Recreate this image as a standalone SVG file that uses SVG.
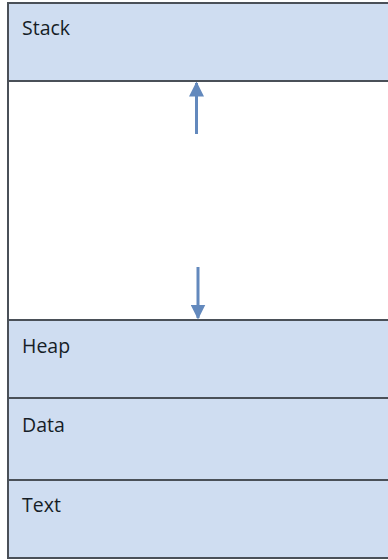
<svg xmlns="http://www.w3.org/2000/svg" width="388" height="560" viewBox="0 0 388 560">
<style>
.seg{fill:#cfddf1;stroke:#4a5058;stroke-width:2}
.free{fill:#ffffff;stroke:#4a5058;stroke-width:2}
.lbl{font-family:"Open Sans","Liberation Sans",sans-serif;font-size:19.5px;fill:#161d27}
.arr{stroke:#6389bd;stroke-width:3;fill:none}
</style>
<defs>
<marker id="ah" viewBox="0 0 10 10" refX="9" refY="5" markerWidth="5" markerHeight="5" orient="auto" markerUnits="strokeWidth">
<path d="M0,0 L10,5 L0,10 Z" fill="#6389bd"/>
</marker>
</defs>
<rect width="388" height="560" fill="#ffffff"/>
<g id="stack">
<rect class="seg" x="8" y="3" width="392" height="78"/>
<text class="lbl" x="22" y="35">Stack</text>
</g>
<g id="free">
<rect class="free" x="8" y="81" width="392" height="239"/>
</g>
<g id="heap">
<rect class="seg" x="8" y="320" width="392" height="78"/>
<text class="lbl" x="22" y="353">Heap</text>
</g>
<g id="data">
<rect class="seg" x="8" y="398" width="392" height="82"/>
<text class="lbl" x="22" y="432">Data</text>
</g>
<g id="text">
<rect class="seg" x="8" y="480" width="392" height="78"/>
<text class="lbl" x="22" y="512">Text</text>
</g>
<g id="connectors">
<line class="arr" x1="196.5" y1="134" x2="196.5" y2="83" marker-end="url(#ah)"/>
<line class="arr" x1="198" y1="267" x2="198" y2="318" marker-end="url(#ah)"/>
</g>
</svg>
